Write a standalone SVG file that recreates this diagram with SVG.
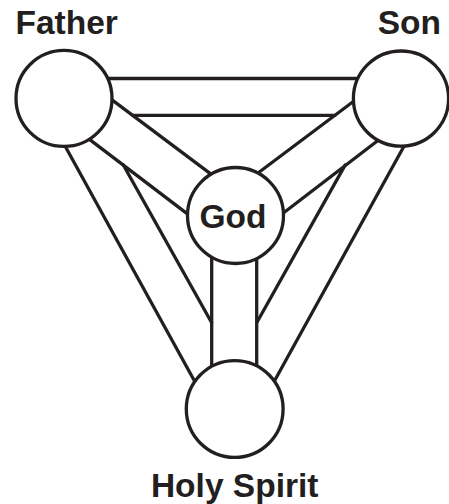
<svg xmlns="http://www.w3.org/2000/svg" width="449" height="504" viewBox="0 0 449 504">
<style>
.c{fill:#fff;stroke:#231f20;stroke-width:3.3}
.l{stroke:#231f20;stroke-width:3.3;stroke-linecap:round;fill:none}
.t{font-family:"Liberation Sans",Arial,sans-serif;font-weight:bold;font-size:33.5px;fill:#231f20;text-anchor:middle}
</style>
<rect width="449" height="504" fill="#fff"/>
<g id="connectors" class="l">
<line x1="80" y1="78.5" x2="385" y2="78.5"/>
<line x1="132.5" y1="115.3" x2="335" y2="115.3"/>
<line x1="100" y1="90.9" x2="220" y2="180.9"/>
<line x1="365" y1="92.8" x2="250" y2="179.05"/>
<line x1="75" y1="128.4" x2="215" y2="234.9"/>
<line x1="390" y1="131.2" x2="255" y2="234.8"/>
<line x1="55" y1="127.8" x2="215" y2="418.2"/>
<line x1="415.7" y1="125" x2="252.9" y2="420"/>
<line x1="123.2" y1="164.8" x2="211.7" y2="322.7"/>
<line x1="345.1" y1="165.1" x2="256.7" y2="322.7"/>
<line x1="211.7" y1="240" x2="211.7" y2="380"/>
<line x1="256.7" y1="240" x2="256.7" y2="380"/>
</g>
<g id="father">
<circle class="c" cx="64" cy="98.4" r="48"/>
<text class="t" x="66.7" y="34.3">Father</text>
</g>
<g id="son">
<circle class="c" cx="401" cy="98.6" r="47.6"/>
<text class="t" x="409.3" y="34.3">Son</text>
</g>
<g id="god">
<circle class="c" cx="235.5" cy="215.5" r="48"/>
<text class="t" x="233" y="228.4">God</text>
</g>
<g id="holy-spirit">
<circle class="c" cx="234.7" cy="409" r="48.4"/>
<text class="t" x="234.7" y="497">Holy Spirit</text>
</g>
</svg>
